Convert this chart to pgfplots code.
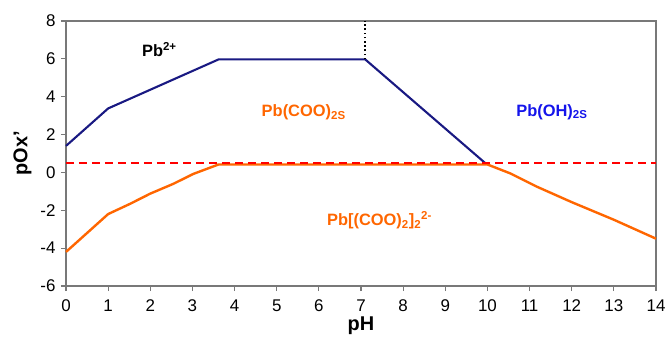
\documentclass[border=0pt]{standalone}
\usepackage{pgfplots}
\pgfplotsset{compat=1.18}
\usepackage{fontspec}
\setmainfont{Liberation Sans}
\definecolor{navyline}{RGB}{25,25,130}
\definecolor{orangeline}{RGB}{255,102,0}
\definecolor{framegray}{RGB}{120,120,120}
\definecolor{bluelabel}{RGB}{20,20,235}
\definecolor{dashred}{RGB}{255,0,0}
\begin{document}
\begin{tikzpicture}
\useasboundingbox (-66bp,-55bp) rectangle (601bp,286bp);
\begin{axis}[
  at={(0,0)}, anchor=south west,
  scale only axis, width=590bp, height=265bp,
  xmin=0, xmax=14, ymin=-6, ymax=8,
  xtick={0,1,...,14},
  xticklabels={0,1,2,3,4,5,6,7,8,9,10,11,12,13,14},
  ytick={-6,-4,...,8},
  yticklabels={-6,-4,-2,0,2,4,6,8},
  tick pos=left, tick align=outside,
  major tick length=5bp,
  tick style={framegray, line width=1.2bp},
  axis line style={framegray, line width=1.5bp},
  ticklabel style={font=\fontsize{17}{19}\selectfont},
  xticklabel style={yshift=-5bp},
  yticklabel style={xshift=-2bp},
  xlabel={\textbf{pH}}, ylabel={\textbf{pOx'}},
  label style={font=\fontsize{20}{22}\selectfont},
  xlabel style={yshift=2bp},
  ylabel style={yshift=2bp},
  clip=false,
]
\addplot[navyline, line width=2.1bp] coordinates {
 (0,1.4) (1,3.38) (3.62,5.97) (7.1,5.97) (9.97,0.45)};
\addplot[orangeline, line width=2.4bp] coordinates {
 (0,-4.2) (1,-2.2) (1.52,-1.66) (2,-1.12) (2.55,-0.6) (3.02,-0.08) (3.62,0.42)
 (10,0.42) (10.54,-0.05) (11.17,-0.75) (12,-1.57) (13,-2.5) (14,-3.5)};
\addplot[color=dashred, line width=1.1bp, dashed, dash pattern=on 8bp off 5bp] coordinates {(0,0.5) (14,0.5)};
\addplot[color=black, line width=1.6bp, dash pattern=on 1.6bp off 2.6bp] coordinates {(7.1,5.97) (7.1,8)};
\node[anchor=base west, font=\fontsize{16.5}{18}\selectfont\bfseries, inner sep=0pt] at (axis cs:1.80,6.12) {Pb\textsuperscript{2+}};
\node[anchor=base west, font=\fontsize{16.5}{18}\selectfont\bfseries, text=orangeline, inner sep=0pt] at (axis cs:4.64,2.95) {Pb(COO)\textsubscript{2S}};
\node[anchor=base west, font=\fontsize{16.5}{18}\selectfont\bfseries, text=bluelabel, inner sep=0pt] at (axis cs:10.68,2.97) {Pb(OH)\textsubscript{2S}};
\node[anchor=base west, font=\fontsize{16.5}{18}\selectfont\bfseries, text=orangeline, inner sep=0pt] at (axis cs:6.19,-2.83) {Pb[(COO)\textsubscript{2}]\textsubscript{2}\textsuperscript{2-}};
\end{axis}
\end{tikzpicture}
\end{document}
